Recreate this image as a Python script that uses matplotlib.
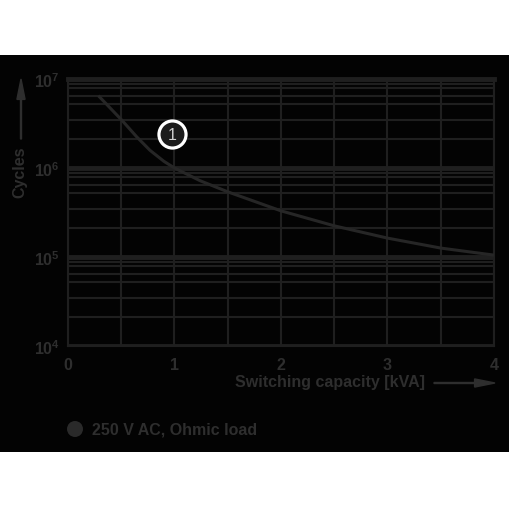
import matplotlib
matplotlib.use("Agg")
import matplotlib.pyplot as plt
from matplotlib.patches import Rectangle, FancyArrow, Circle
from matplotlib.ticker import LogLocator, NullFormatter, FixedLocator

plt.rcParams['font.family'] = ['Liberation Sans', 'DejaVu Sans']

# data
capacity_kva = [0.285, 0.39, 0.51, 0.645, 0.77, 0.9, 1.0, 1.24, 1.5, 2.0, 2.5, 3.0, 3.5, 4.0]
cycles = [6.5e6, 4.8e6, 3.4e6, 2.24e6, 1.58e6, 1.19e6, 1.0e6, 7.2e5, 5.4e5, 3.3e5,
          2.24e5, 1.63e5, 1.26e5, 1.05e5]
x_ticks = [0, 1, 2, 3, 4]
x_minor = [0.5, 1.5, 2.5, 3.5]
y_grid_subs = [2.1, 3.5, 5.2, 6.5, 7.85, 8.9]
curve_label = "1"
label_pos = (0.974, 2.4e6)
legend_text = "250 V AC, Ohmic load"

TXT = '#2e2e2e'
GRID = '#1f1f1f'
BG = '#030303'

fig = plt.figure(figsize=(5.1, 5.1), dpi=100)
fig.patch.set_facecolor('white')
fig.patches.append(Rectangle((0, 1 - 453/510), 1, (453-56)/510, transform=fig.transFigure,
                             facecolor=BG, edgecolor='none', zorder=-10))

ax = fig.add_axes([68/510, 1 - 347/510, (494-68)/510, (347-80)/510])
ax.set_facecolor(BG)
ax.set_yscale('log')
ax.set_xlim(0, 4)
ax.set_ylim(1e4, 1e7)

ax.xaxis.set_major_locator(FixedLocator(x_ticks))
ax.xaxis.set_minor_locator(FixedLocator(x_minor))
ax.yaxis.set_major_locator(LogLocator(base=10, numticks=10))
ax.yaxis.set_minor_locator(LogLocator(base=10, subs=y_grid_subs, numticks=20))
ax.yaxis.set_minor_formatter(NullFormatter())

ax.grid(True, which='minor', color=GRID, linewidth=1.5)
ax.xaxis.grid(True, which='major', color=GRID, linewidth=1.5)
ax.yaxis.grid(True, which='major', color=GRID, linewidth=3.5)
ax.set_axisbelow(True)
for s in ax.spines.values():
    s.set_color(GRID)
    s.set_linewidth(1.5)
ax.spines['top'].set_linewidth(3.5)
ax.tick_params(which='both', length=0, colors=TXT, labelsize=11.5)
ax.tick_params(axis='x', pad=8)
ax.tick_params(axis='y', pad=6)
for t in ax.get_xticklabels() + ax.get_yticklabels():
    t.set_fontweight('bold')
    t.set_color(TXT)

ax.plot(capacity_kva, cycles, color='#262626', linewidth=2.2, zorder=3,
        solid_capstyle='butt', solid_joinstyle='round')

ax.plot([label_pos[0]], [label_pos[1]], 'o', markersize=19.5, markerfacecolor='#1c1c1c',
        markeredgecolor='white', markeredgewidth=2.3, zorder=4)
ax.text(label_pos[0], label_pos[1], curve_label, ha='center', va='center',
        color='#d0d0d0', fontsize=11.5, zorder=5)

# axis labels with arrows
fig.text(20/510, 1 - 172/510, 'Cycles', rotation=90, ha='center', va='center',
         color=TXT, fontsize=11.5, fontweight='bold')
fig.patches.append(FancyArrow(21/510, 1 - 140/510, 0, (140-80)/510,
                   width=0.002, head_width=0.016, head_length=0.04,
                   length_includes_head=True, transform=fig.transFigure,
                   color=TXT, zorder=2))
fig.text(330/510, 1 - 383/510, 'Switching capacity [kVA]', ha='center', va='center',
         color=TXT, fontsize=11.5, fontweight='bold')
fig.patches.append(FancyArrow(434/510, 1 - 384/510, (495-434)/510, 0,
                   width=0.002, head_width=0.016, head_length=0.04,
                   length_includes_head=True, transform=fig.transFigure,
                   color=TXT, zorder=2))

# legend
fig.patches.append(Circle((75/510, 1 - 430/510), 8/510,
                   transform=fig.transFigure, facecolor='#2a2a2a', edgecolor='none', zorder=2))
fig.text(92/510, 1 - 430/510, legend_text, ha='left', va='center', color=TXT,
         fontsize=11.5, fontweight='bold')

fig.savefig('out.png', dpi=100, facecolor=fig.get_facecolor())
